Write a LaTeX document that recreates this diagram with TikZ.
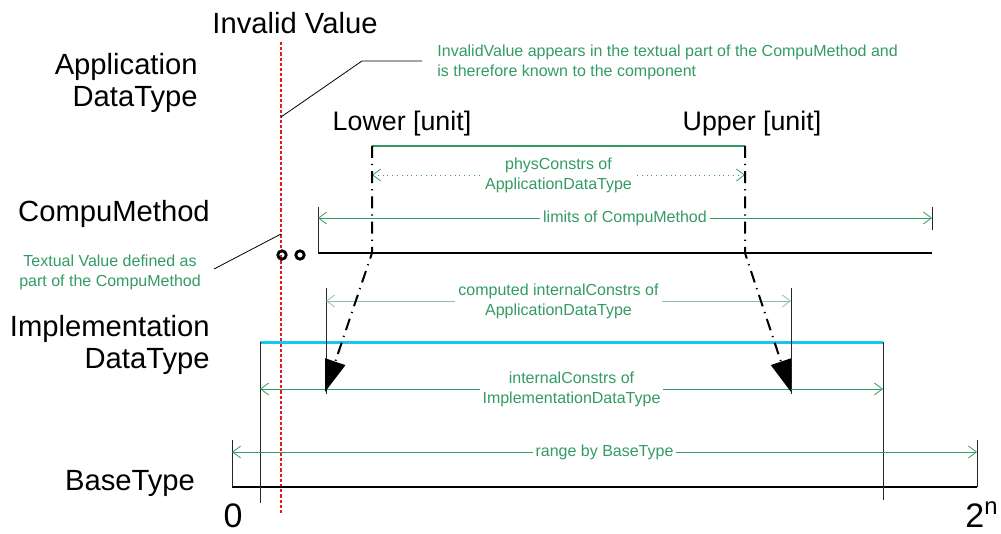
\documentclass[tikz,border=0pt]{standalone}
\usepackage{fontspec}
\setmainfont{Liberation Sans}
\usetikzlibrary{
  arrows.meta,
  positioning,
  calc
}
\definecolor{notegreen}{RGB}{51,155,100}
\definecolor{palegreen}{RGB}{140,195,165}
\definecolor{implcyan}{RGB}{20,200,240}
\definecolor{invalidred}{RGB}{235,25,25}

\begin{document}
\begin{tikzpicture}[
  x=0.5pt, y=-0.5pt,
  bigtext/.style={
    font=\fontsize{14.6}{16.2}\selectfont,
    inner sep=0pt,
    align=right
  },
  limittext/.style={
    bigtext,
    font=\fontsize{13.4}{16}\selectfont
  },
  digittext/.style={
    font=\fontsize{17}{20}\selectfont,
    inner sep=0pt
  },
  notetext/.style={
    font=\fontsize{8}{10}\selectfont,
    text=notegreen,
    inner sep=0pt
  },
  dimlabel/.style={
    notetext,
    fill=white,
    inner sep=1.5pt,
    align=center
  },
  dimarrow/.style={
    {Straight Barb[length=4pt,width=6pt]}-{Straight Barb[length=4pt,width=6pt]},
    draw=notegreen,
    line width=0.4pt
  },
  tickline/.style={draw=black!85, line width=0.4pt},
  axisline/.style={draw=black, line width=1pt},
  mapline/.style={
    -{Triangle[length=16pt,width=10.5pt]},
    draw=black,
    line width=1pt,
    dash pattern=on 6pt off 3pt on 0.6pt off 3pt
  },
  leader/.style={draw=black, line width=0.4pt}
]
\useasboundingbox (0,0) rectangle (1001,534);

% labels of the levels
\node[bigtext, anchor=base] (invalid) at (295,34) {Invalid Value};
\node[bigtext, anchor=north east] (appdt) at (198,53) {Application\\DataType};
\node[limittext, anchor=base] (lower) at (402,131) {Lower [unit]};
\node[limittext, anchor=base] (upper) at (752,131) {Upper [unit]};
\node[bigtext, anchor=base] (compu) at (114,222) {CompuMethod};
\node[bigtext, anchor=north east] (impldt) at (210,315) {Implementation\\DataType};
\node[bigtext, anchor=base] (basetype) at (130,490) {BaseType};
\node[digittext, anchor=base] (zero) at (233,527) {0};
\node[digittext, anchor=base west] (twon) at (965,527) {2\textsuperscript{n}};

% notes
\node[notetext, anchor=north west, align=left] (invnote) at (437,45)
  {InvalidValue appears in the textual part of the CompuMethod and\\is therefore known to the component};
\node[notetext, anchor=north, align=center] (textnote) at (110,255)
  {Textual Value defined as\\part of the CompuMethod};

% end points
\coordinate (redTop) at (281,42);
\coordinate (redBot) at (281,515);
\coordinate (invPt) at (281,117);
\coordinate (invKnee) at (362,61);
\coordinate (invEnd) at (422,61);
\coordinate (txtPt) at (281,234);
\coordinate (txtEnd) at (214,269);
\coordinate (physL) at (372,146);
\coordinate (physR) at (745,146);
\coordinate (lowBend) at (372,253);
\coordinate (upBend) at (745,253);
\coordinate (lowTip) at (325,392);
\coordinate (upTip) at (791,392);
\coordinate (cmL) at (318,253);
\coordinate (cmR) at (932,253);
\coordinate (implL) at (260,342);
\coordinate (implR) at (883,342);
\coordinate (baseL) at (232,487);
\coordinate (baseR) at (977,487);

% invalid value
\draw[invalidred, line width=1pt, dash pattern=on 1.6pt off 1pt] (redTop) -- (redBot);
\draw[leader] (invPt) -- (invKnee) -- (invEnd);
\draw[leader] (txtEnd) -- (txtPt);
\draw[line width=1.4pt] (282,255) circle (4.2) (300,255) circle (4.2);

% value lines
\draw[notegreen, line width=1pt] (physL) -- (physR);
\draw[axisline] (cmL) -- (cmR);
\draw[implcyan, line width=1.5pt] (implL) -- (implR);
\draw[axisline] (baseL) -- (baseR);

% ticks
\draw[tickline] (318,207) -- (cmL);
\draw[tickline] (932,207) -- (932,230);
\draw[tickline] (326,288) -- (326,394);
\draw[tickline] (791,288) -- (791,394);
\draw[tickline] (implL) -- (260,503);
\draw[tickline] (implR) -- (883,500);
\draw[tickline] (232,440) -- (baseL);
\draw[tickline] (977,440) -- (baseR);

% ranges
\draw[dimarrow, dotted] (372,175) -- node[dimlabel] {physConstrs of\\ApplicationDataType} (745,175);
\draw[dimarrow] (318,218) -- node[dimlabel] {limits of CompuMethod} (932,218);
\draw[dimarrow, draw=palegreen] (326,301) -- node[dimlabel] {computed internalConstrs of\\ApplicationDataType} (791,301);
\draw[dimarrow] (260,389) -- node[dimlabel] {internalConstrs of\\ImplementationDataType} (883,389);
\draw[dimarrow] (232,452) -- node[dimlabel] {range by BaseType} (977,452);

% conversion of the limits
\draw[mapline] (physL) -- (lowBend) -- (lowTip);
\draw[mapline] (physR) -- (upBend) -- (upTip);

\end{tikzpicture}
\end{document}
